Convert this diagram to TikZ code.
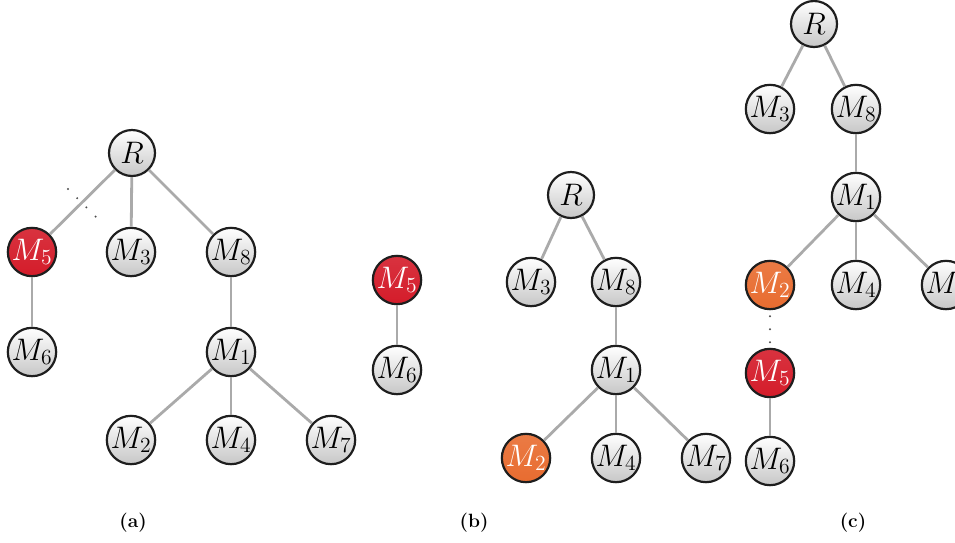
\documentclass[tikz,border=0pt]{standalone}
\usepackage{graphicx}
\usetikzlibrary{shadings}
\definecolor{mred}{RGB}{212,28,42}
\definecolor{morange}{RGB}{232,108,48}
\definecolor{edgegray}{RGB}{170,170,170}
\definecolor{rimgray}{RGB}{30,30,30}
% vertex label: math set at 20.74pt, enlarged
\newcommand{\vlab}[1]{\scalebox{1.5}{$#1$}}
% panel caption, bold and enlarged
\newcommand{\plab}[1]{\scalebox{1.6}{\bfseries #1}}
\tikzset{
  vtx/.style={circle, draw=rimgray, line width=2.2pt, minimum size=46pt, inner sep=0pt,
    top color=white, bottom color=black!22, font=\fontsize{20.74}{24}\selectfont},
  vred/.style={vtx, top color=mred!90, bottom color=mred, text=white},
  vorange/.style={vtx, top color=morange!90, bottom color=morange, text=white},
  edge/.style={draw=edgegray, line width=2.8pt},
  cut/.style={draw=black!70, line width=2.2pt, dash pattern=on 0pt off 13pt, line cap=round},
  caption/.style={font=\fontsize{12}{14}\selectfont}
}
\begin{document}
\begin{tikzpicture}[x=1pt,y=-1pt]
\useasboundingbox (0,0) rectangle (955,542);
% ---- (a) tree with cut edge ----
\node[vtx] (aR) at (132,153) {\vlab{R}};
\node[vred] (aM5) at (32,252) {\vlab{M_5}};
\node[vtx] (aM3) at (131,252) {\vlab{M_3}};
\node[vtx] (aM8) at (231,252) {\vlab{M_8}};
\node[vtx] (aM6) at (32,352) {\vlab{M_6}};
\node[vtx] (aM1) at (231,352) {\vlab{M_1}};
\node[vtx] (aM2) at (131,440) {\vlab{M_2}};
\node[vtx] (aM4) at (231,440) {\vlab{M_4}};
\node[vtx] (aM7) at (331,440) {\vlab{M_7}};
\draw[edge] (aR) -- (aM5);
\draw[edge] (aR) -- (aM3);
\draw[edge] (aR) -- (aM8);
\draw[edge] (aM5) -- (aM6);
\draw[edge] (aM8) -- (aM1);
\draw[edge] (aM1) -- (aM2);
\draw[edge] (aM1) -- (aM4);
\draw[edge] (aM1) -- (aM7);
\coordinate (cutA) at (68,189);
\coordinate (cutB) at (97,218);
\draw[cut] (cutA) -- (cutB);
% ---- detached subtree ----
\node[vred] (sM5) at (397,280) {\vlab{M_5}};
\node[vtx] (sM6) at (397,370) {\vlab{M_6}};
\draw[edge] (sM5) -- (sM6);
% ---- (b) remaining tree ----
\node[vtx] (bR) at (571,195) {\vlab{R}};
\node[vtx] (bM3) at (531,282) {\vlab{M_3}};
\node[vtx] (bM8) at (616,282) {\vlab{M_8}};
\node[vtx] (bM1) at (616,370) {\vlab{M_1}};
\node[vorange] (bM2) at (526,458) {\vlab{M_2}};
\node[vtx] (bM4) at (616,458) {\vlab{M_4}};
\node[vtx] (bM7) at (706,458) {\vlab{M_7}};
\draw[edge] (bR) -- (bM3);
\draw[edge] (bR) -- (bM8);
\draw[edge] (bM8) -- (bM1);
\draw[edge] (bM1) -- (bM2);
\draw[edge] (bM1) -- (bM4);
\draw[edge] (bM1) -- (bM7);
% ---- (c) subtree regrafted under M2 ----
\node[vtx] (cR) at (814,24) {\vlab{R}};
\node[vtx] (cM3) at (770,109) {\vlab{M_3}};
\node[vtx] (cM8) at (856,109) {\vlab{M_8}};
\node[vtx] (cM1) at (856,197) {\vlab{M_1}};
\node[vorange] (cM2) at (770,285) {\vlab{M_2}};
\node[vtx] (cM4) at (856,285) {\vlab{M_4}};
\node[vtx] (cM7) at (946,285) {\vlab{M_7}};
\node[vred] (cM5) at (770,373) {\vlab{M_5}};
\node[vtx] (cM6) at (770,461) {\vlab{M_6}};
\draw[edge] (cR) -- (cM3);
\draw[edge] (cR) -- (cM8);
\draw[edge] (cM8) -- (cM1);
\draw[edge] (cM1) -- (cM2);
\draw[edge] (cM1) -- (cM4);
\draw[edge] (cM1) -- (cM7);
\draw[cut, shorten <=6pt] (cM2) -- (cM5);
\draw[edge] (cM5) -- (cM6);
% ---- captions ----
\node[caption] (capa) at (133,523) {\plab{(a)}};
\node[caption] (capb) at (474,523) {\plab{(b)}};
\node[caption] (capc) at (853,523) {\plab{(c)}};
\end{tikzpicture}
\end{document}
